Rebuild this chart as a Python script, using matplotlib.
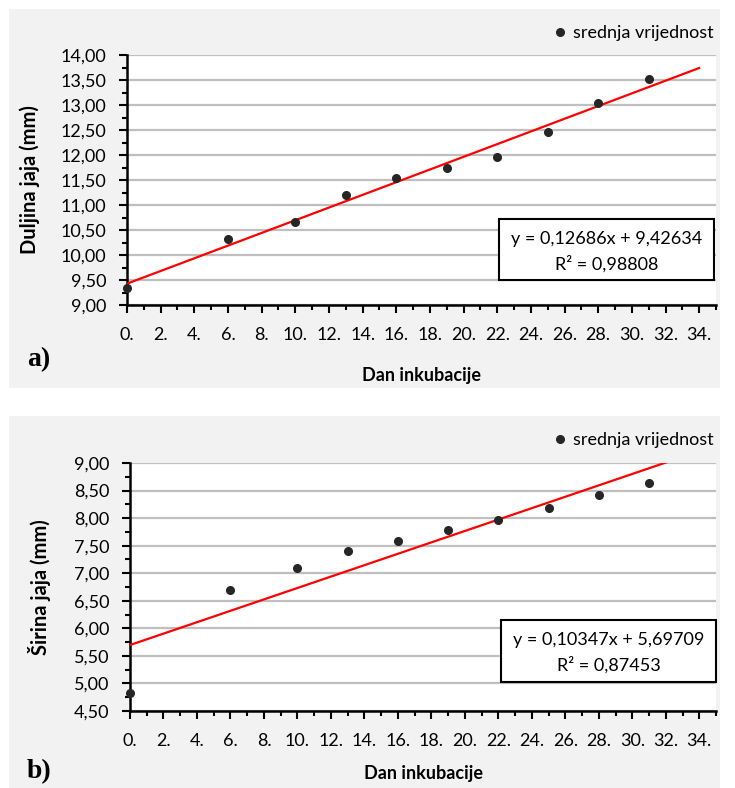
import matplotlib
matplotlib.use('Agg')
import matplotlib.pyplot as plt
from matplotlib.patches import Rectangle
from matplotlib.ticker import MultipleLocator, FuncFormatter
import numpy as np

plt.rcParams['font.family'] = ['Lato', 'DejaVu Sans']

# data
days = [0, 6, 10, 13, 16, 19, 22, 25, 28, 31]
duljina = [9.34, 10.32, 10.67, 11.21, 11.55, 11.75, 11.97, 12.46, 13.04, 13.53]
sirina = [4.82, 6.70, 7.10, 7.40, 7.58, 7.78, 7.97, 8.18, 8.42, 8.63]

# trend lines as printed on the chart
fit_a = (0.12686, 9.42634, 0.98808)
fit_b = (0.10347, 5.69709, 0.87453)
trend_x = [0, 34]

W, H = 735, 788
fig = plt.figure(figsize=(W / 100, H / 100), dpi=100)
fig.patch.set_facecolor('white')

def fx(px):
	return px / W

def fy(py):
	return 1 - py / H

def comma(v, pos):
	return ('%.2f' % v).replace('.', ',')

def dayfmt(v, pos):
	return '%d.' % int(round(v))

def panel(top, bottom, ax_box, ylim, ylab, ylab_x, yvals, fit, tag, tag_y, xlab_y, leg_y, eq_box):
	fig.patches.append(Rectangle((fx(9), fy(bottom)), fx(711), (bottom - top) / H,
		transform=fig.transFigure, facecolor='#f2f2f2', edgecolor='none', zorder=-5))
	l, t, r, b = ax_box
	ax = fig.add_axes([fx(l), fy(b), fx(r - l), (b - t) / H])
	ax.set_facecolor('white')
	ax.set_xlim(0, 35)
	ax.set_ylim(*ylim)
	ax.xaxis.set_major_locator(MultipleLocator(2))
	ax.xaxis.set_minor_locator(MultipleLocator(1))
	ax.yaxis.set_major_locator(MultipleLocator(0.5))
	ax.yaxis.set_minor_locator(MultipleLocator(0.25))
	ax.xaxis.set_major_formatter(FuncFormatter(dayfmt))
	ax.yaxis.set_major_formatter(FuncFormatter(comma))
	ax.grid(axis='y', which='major', color='#bfbfbf', lw=1.6, zorder=1)
	ax.set_axisbelow(True)
	for s in ['top', 'right']:
		ax.spines[s].set_visible(False)
	for s in ['left', 'bottom']:
		ax.spines[s].set_linewidth(1.8)
		ax.spines[s].set_zorder(3)
	ax.tick_params(axis='both', which='major', length=6, width=1.5, labelsize=13, colors='black')
	ax.tick_params(axis='both', which='minor', length=3.5, width=1.5)
	ax.tick_params(axis='x', which='major', pad=10)
	ax.tick_params(axis='y', which='major', pad=9)

	tx = np.array(trend_x, dtype=float)
	ax.plot(tx, fit[0] * tx + fit[1], color='#ff0000', lw=1.6, zorder=4)
	ax.plot(days, yvals, 'o', color='#262626', ms=5.5, zorder=5, clip_on=False,
		label='srednja vrijednost')

	ax.set_ylabel(ylab, fontsize=14.5, fontweight='bold')
	ax.yaxis.set_label_coords(ylab_x, 0.5)
	fig.text(fx((l + r) / 2), fy(xlab_y), 'Dan inkubacije', ha='center', va='center',
		fontsize=13, fontweight='bold')
	fig.text(fx(27), fy(tag_y), tag, ha='left', va='center', fontsize=20,
		fontweight='bold', family='Liberation Serif')

	ax.legend(loc='center right', bbox_to_anchor=(fx(714), fy(leg_y)),
		bbox_transform=fig.transFigure, frameon=False, fontsize=13,
		handlelength=0.5, handletextpad=0.5, borderpad=0, borderaxespad=0)

	bl, bt, br, bb = eq_box
	fig.patches.append(Rectangle((fx(bl), fy(bb)), fx(br - bl), (bb - bt) / H,
		transform=fig.transFigure, facecolor='white', edgecolor='black', lw=1.5, zorder=6))
	cx = fx((bl + br) / 2)
	eq1 = 'y = %s' % ('%.5fx + %.5f' % (fit[0], fit[1])).replace('.', ',')
	eq2 = 'R² = %s' % ('%.5f' % fit[2]).replace('.', ',')
	fig.text(cx, fy(bt + (bb - bt) * 0.32), eq1, ha='center', va='center', fontsize=13, zorder=7)
	fig.text(cx, fy(bt + (bb - bt) * 0.73), eq2, ha='center', va='center', fontsize=13, zorder=7)
	return ax

panel(9, 388, (127, 55, 716, 305), (9, 14), 'Duljina jaja (mm)', -0.147,
	duljina, fit_a, 'a)', 360, 375, 33, (499, 219, 714, 280))
panel(416, 788, (130, 463, 716, 711), (4.5, 9), 'Širina jaja (mm)', -0.135,
	sirina, fit_b, 'b)', 772, 773, 440, (501, 620, 716, 682))

fig.savefig('out.png', dpi=100)
